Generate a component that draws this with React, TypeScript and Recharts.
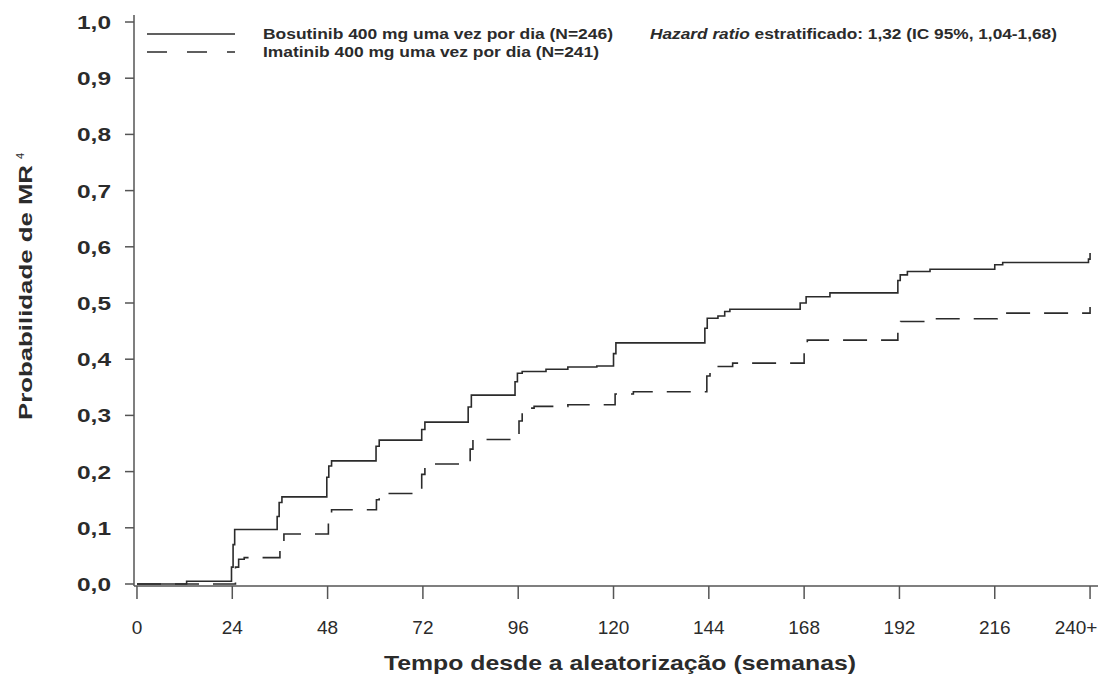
import React from 'react';
import { LineChart, Line, XAxis, YAxis, Legend } from 'recharts';

const xTicks = [0, 24, 48, 72, 96, 120, 144, 168, 192, 216, 240];
const yTicks = [0, 0.1, 0.2, 0.3, 0.4, 0.5, 0.6, 0.7, 0.8, 0.9, 1.0];

const bosutinibWeeks = [0, 12.5, 23.8, 24.2, 24.6, 35.3, 35.8, 36.5, 47.8, 48.3, 49, 60.2, 61, 71.7, 72.5, 83.4, 84.2, 95.2, 95.8, 97, 103, 108.5, 115.8, 120, 120.6, 143, 143.6, 146.3, 148, 149.3, 167, 168.5, 174.5, 191.6, 192.2, 194, 199.7, 216, 218, 239.6, 240];
const bosutinibProb = [0, 0.005, 0.03, 0.07, 0.097, 0.12, 0.145, 0.155, 0.19, 0.21, 0.219, 0.245, 0.256, 0.275, 0.288, 0.315, 0.336, 0.36, 0.375, 0.378, 0.382, 0.386, 0.388, 0.41, 0.429, 0.455, 0.473, 0.477, 0.485, 0.489, 0.5, 0.511, 0.518, 0.54, 0.55, 0.556, 0.56, 0.568, 0.572, 0.578, 0.589];

const imatinibWeeks = [0, 24.8, 25.6, 27, 36, 37, 48.2, 49, 60.3, 61, 71.7, 72.5, 83.9, 84.6, 96.2, 97, 100, 108.5, 120.4, 125, 143.5, 144.3, 150, 168, 168.8, 191.6, 192.3, 198.4, 216.6, 240];
const imatinibProb = [0, 0.03, 0.044, 0.047, 0.07, 0.089, 0.115, 0.132, 0.15, 0.161, 0.195, 0.2135, 0.24, 0.257, 0.29, 0.313, 0.316, 0.319, 0.338, 0.342, 0.37, 0.387, 0.393, 0.42, 0.434, 0.455, 0.467, 0.472, 0.482, 0.493];

const seriesNames = ['Bosutinib 400 mg uma vez por dia (N=246)', 'Imatinib 400 mg uma vez por dia (N=241)'];
const hazardItalic = 'Hazard ratio';
const hazardRest = ' estratificado: 1,32 (IC 95%, 1,04-1,68)';

const bosutinib = bosutinibWeeks.map((w, i) => ({ week: w, p: bosutinibProb[i] }));
const imatinib = imatinibWeeks.map((w, i) => ({ week: w, p: imatinibProb[i] }));

const ink = '#2b2b2b';
const font = '"Liberation Sans", Arial, sans-serif';

function YTick(props: any) {
  const { x, y, payload } = props;
  const label = Number(payload.value).toFixed(1).replace('.', ',');
  return (
    <text x={x} y={y + 7} textAnchor='end' fontFamily={font} fontWeight='bold' fontSize={19}
      fill={ink} textLength={34} lengthAdjust='spacingAndGlyphs'>
      {label}
    </text>
  );
}

function XTick(props: any) {
  const { x, y, payload } = props;
  const last = payload.value === 240;
  return (
    <text x={last ? x - 14 : x} y={y + 14} textAnchor='middle' fontFamily={font} fontSize={19} fill={ink}>
      {last ? '240+' : String(payload.value)}
    </text>
  );
}

function LegendBox() {
  return (
    <svg width={1120} height={70} style={{ display: 'block' }}>
      <line x1={147} x2={235} y1={34} y2={34} stroke={ink} strokeWidth={1.5} />
      <line x1={147} x2={235} y1={52} y2={52} stroke={ink} strokeWidth={1.5} strokeDasharray='20 20' />
      <text x={263} y={39} fontFamily={font} fontWeight='bold' fontSize={14} fill={ink}
        textLength={350} lengthAdjust='spacingAndGlyphs'>{seriesNames[0]}</text>
      <text x={263} y={57} fontFamily={font} fontWeight='bold' fontSize={14} fill={ink}
        textLength={336} lengthAdjust='spacingAndGlyphs'>{seriesNames[1]}</text>
      <text x={650} y={39} fontFamily={font} fontWeight='bold' fontSize={14} fill={ink}
        textLength={407} lengthAdjust='spacingAndGlyphs'>
        <tspan fontStyle='italic'>{hazardItalic}</tspan>
        <tspan>{hazardRest}</tspan>
      </text>
    </svg>
  );
}

export default function App() {
  return (
    <div style={{ position: 'absolute', left: 0, top: 0, background: '#fff' }}>
      <LineChart width={1120} height={674} margin={{ top: 15, right: 22, left: 74, bottom: 28 }}>
        <XAxis
          type='number'
          dataKey='week'
          domain={[-0.75, 242]}
          ticks={xTicks}
          allowDataOverflow
          tick={<XTick />}
          tickSize={13}
          tickMargin={21}
          height={60}
          axisLine={{ stroke: '#555', strokeWidth: 1.5 }}
          tickLine={{ stroke: '#555', strokeWidth: 1.5 }}
        />
        <YAxis
          type='number'
          domain={[-0.00356, 1.01246]}
          ticks={yTicks}
          allowDataOverflow
          tick={<YTick />}
          tickSize={9}
          tickMargin={14}
          width={60}
          axisLine={{ stroke: '#555', strokeWidth: 1.5 }}
          tickLine={{ stroke: '#555', strokeWidth: 1.5 }}
        />
        <Legend
          verticalAlign='middle'
          layout='horizontal'
          wrapperStyle={{ position: 'absolute', left: 0, top: 0, width: 1120, height: 70 }}
          content={() => <LegendBox />}
        />
        <Line
          data={bosutinib}
          dataKey='p'
          name={seriesNames[0]}
          type='stepAfter'
          stroke={ink}
          strokeWidth={1.6}
          dot={false}
          activeDot={false}
          isAnimationActive={false}
        />
        <Line
          data={imatinib}
          dataKey='p'
          name={seriesNames[1]}
          type='stepAfter'
          stroke={ink}
          strokeWidth={1.6}
          strokeDasharray='24 14'
          dot={false}
          activeDot={false}
          isAnimationActive={false}
        />
      </LineChart>
      <svg width={60} height={674} style={{ position: 'absolute', left: 0, top: 0, pointerEvents: 'none' }}>
        <g transform='rotate(-90)'>
          <text x={-420} y={32} fontFamily={font} fontWeight='bold' fontSize={18} fill={ink}
            textLength={255} lengthAdjust='spacingAndGlyphs'>Probabilidade de MR</text>
          <text x={-159} y={24} fontFamily={font} fontSize={11} fill={ink}>4</text>
        </g>
      </svg>
      <svg width={1120} height={674} style={{ position: 'absolute', left: 0, top: 0, pointerEvents: 'none' }}>
        <text x={384} y={670} fontFamily={font} fontWeight='bold' fontSize={21} fill={ink}
          textLength={472} lengthAdjust='spacingAndGlyphs'>Tempo desde a aleatorização (semanas)</text>
      </svg>
    </div>
  );
}
